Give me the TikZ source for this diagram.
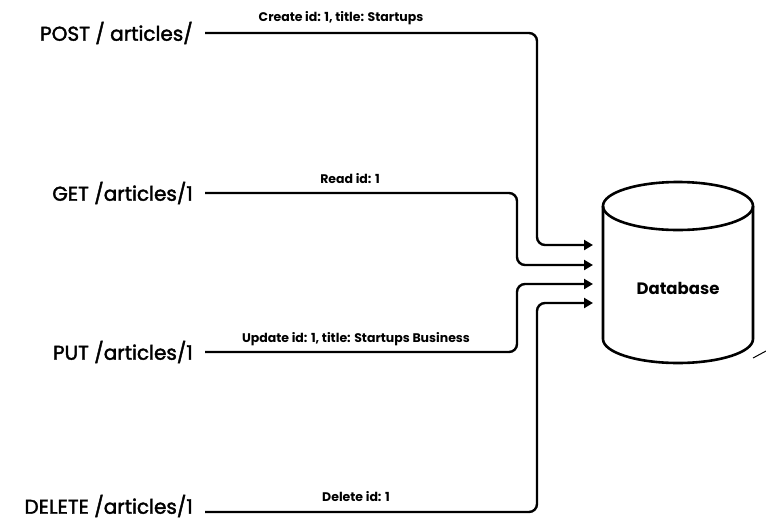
\documentclass[tikz,border=0pt]{standalone}
\usepackage{fontspec}
\setmainfont{Poppins}
\newfontfamily\routefont{Poppins}[FakeBold=2]
\usepackage{tikz}
\usetikzlibrary{arrows.meta}

\tikzset{
  route/.style={font=\routefont\fontsize{20}{24}\selectfont, anchor=east, inner sep=0pt},
  call/.style={font=\bfseries\fontsize{12.5}{15}\selectfont, inner sep=0pt},
  flow/.style={line width=2.4pt, rounded corners=8pt, -{Triangle[length=9pt,width=10pt]}},
  dbline/.style={line width=2.6pt}
}

\begin{document}
\begin{tikzpicture}[x=1pt, y=-1pt]
  \useasboundingbox (0,0) rectangle (766,523);

  % endpoints of the four requests
  \node[route] (post) at (193,33) {POST / articles/};
  \node[route] (get) at (193,193) {GET /articles/1};
  \node[route] (put) at (193,352) {PUT /articles/1};
  \node[route] (del) at (193,506) {DELETE /articles/1};

  % the store
  \node[inner sep=0pt, font=\bfseries\fontsize{16.5}{20}\selectfont] (db) at (678,288) {Database};
  \draw[dbline] ([yshift=82pt]db.center) ellipse [x radius=75pt, y radius=24pt];
  \draw[dbline] ([shift={(-75pt,82pt)}]db.center) -- ([shift={(-75pt,-51pt)}]db.center)
    arc[start angle=180, end angle=360, x radius=75pt, y radius=24pt]
    -- ([shift={(75pt,82pt)}]db.center);

  % arrow tips in front of the store
  \coordinate (in1) at (593,245);
  \coordinate (in2) at (593,265);
  \coordinate (in3) at (593,284);
  \coordinate (in4) at (593,303);

  \draw[flow] ([xshift=12pt]post.east) -| (537,120) |- (in1);
  \draw[flow] ([xshift=12pt]get.east) -| (517,230) |- (in2);
  \draw[flow] ([xshift=12pt]put.east) -| (517,320) |- (in3);
  \draw[flow] ([xshift=12pt,yshift=-6pt]del.east) -| (537,400) |- (in4);

  % what each request does
  \node[call] (create) at (341,18) {Create id: 1, title: Startups};
  \node[call] (read) at (350,179) {Read id: 1};
  \node[call] (update) at (356,339) {Update id: 1, title: Startups Business};
  \node[call] (delete) at (356,497) {Delete id: 1};

  \draw[line width=1pt] (753,358) -- (766,351);
\end{tikzpicture}
\end{document}
